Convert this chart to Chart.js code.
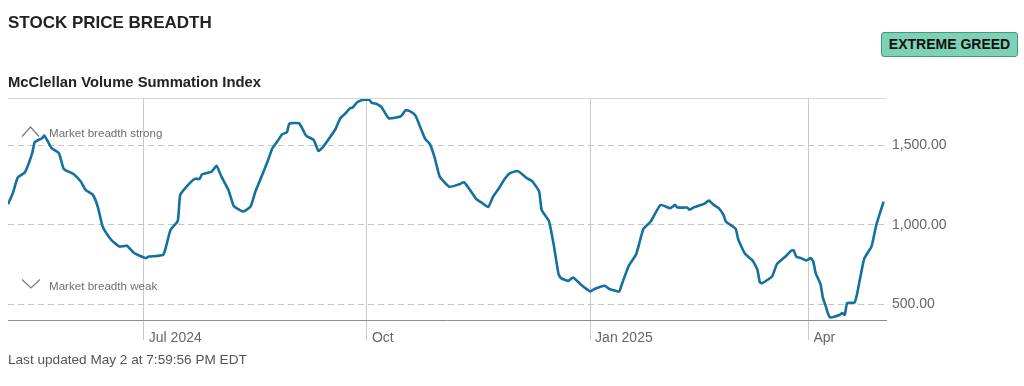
<!DOCTYPE html>
<html><head><meta charset="utf-8">
<script src="https://cdn.jsdelivr.net/npm/chart.js@4/dist/chart.umd.min.js"></script>
<style>
html,body{margin:0;padding:0;background:#fff;width:1024px;height:386px;overflow:hidden;font-family:"Liberation Sans",Arial,Helvetica,sans-serif;}
#wrap{position:absolute;left:0;top:0;width:1024px;height:386px;}
.t{position:absolute;white-space:nowrap;line-height:1;}
#title{left:8px;top:13.5px;font-size:17px;font-weight:bold;color:#222;}
#sub{left:8px;top:75px;font-size:14.8px;font-weight:bold;color:#222;}
#badge{left:881px;top:32px;width:137px;height:25px;box-sizing:border-box;border:1px solid #3f9a80;border-radius:3px;background:#7fd1b6;font-size:14px;font-weight:bold;color:#111;text-align:center;line-height:23px;}
#foot{left:8px;top:353px;font-size:13.6px;color:#555;}
.ann{font-size:11.6px;color:#6e6e6e;left:49px;}
#strong{top:127px;}
#weak{top:280.2px;}
svg{position:absolute;left:0;top:0;}
</style></head>
<body>
<div id="wrap"><canvas id="c"></canvas></div>
<div class="t" id="title">STOCK PRICE BREADTH</div>
<div class="t" id="sub">McClellan Volume Summation Index</div>
<div class="t" id="badge">EXTREME GREED</div>
<div class="t ann" id="strong">Market breadth strong</div>
<div class="t ann" id="weak">Market breadth weak</div>
<div class="t" id="foot">Last updated May 2 at 7:59:56 PM EDT</div>
<svg width="60" height="300" style="pointer-events:none">
<polyline points="22,136.5 30.5,127 39,136.5" fill="none" stroke="#7a7a7a" stroke-width="1.2"/>
<polyline points="22,279.5 31,288 40,279.5" fill="none" stroke="#7a7a7a" stroke-width="1.2"/>
</svg>
<script>
const dates = [
'2024-05-06','2024-05-08','2024-05-10','2024-05-13','2024-05-16','2024-05-17','2024-05-20','2024-05-21','2024-05-24','2024-05-27',
'2024-05-29','2024-06-02','2024-06-05','2024-06-07','2024-06-10','2024-06-12','2024-06-14','2024-06-17','2024-06-19','2024-06-21',
'2024-06-24','2024-06-27','2024-06-29','2024-07-02','2024-07-03','2024-07-06','2024-07-09','2024-07-10','2024-07-12','2024-07-15',
'2024-07-16','2024-07-19','2024-07-22','2024-07-24','2024-07-25','2024-07-29','2024-07-31','2024-08-02','2024-08-05','2024-08-07',
'2024-08-09','2024-08-11','2024-08-14','2024-08-16','2024-08-18','2024-08-21','2024-08-23','2024-08-25','2024-08-27','2024-08-29',
'2024-08-30','2024-09-03','2024-09-04','2024-09-06','2024-09-09','2024-09-11','2024-09-13','2024-09-15','2024-09-18','2024-09-20',
'2024-09-22','2024-09-24','2024-09-25','2024-09-27','2024-09-29','2024-09-30','2024-10-02','2024-10-03','2024-10-05','2024-10-07',
'2024-10-10','2024-10-15','2024-10-17','2024-10-19','2024-10-21','2024-10-23','2024-10-25','2024-10-27','2024-10-29','2024-10-31',
'2024-11-04','2024-11-08','2024-11-10','2024-11-12','2024-11-15','2024-11-17','2024-11-20','2024-11-22','2024-11-24','2024-11-27',
'2024-11-29','2024-12-02','2024-12-03','2024-12-06','2024-12-08','2024-12-11','2024-12-12','2024-12-15','2024-12-17','2024-12-19',
'2024-12-20','2024-12-23','2024-12-25','2024-12-28','2024-12-31','2025-01-01','2025-01-03','2025-01-07','2025-01-09','2025-01-13',
'2025-01-14','2025-01-17','2025-01-20','2025-01-23','2025-01-26','2025-01-30','2025-02-03','2025-02-05','2025-02-06','2025-02-10',
'2025-02-11','2025-02-13','2025-02-17','2025-02-19','2025-02-21','2025-02-23','2025-02-25','2025-02-26','2025-03-02','2025-03-03',
'2025-03-05','2025-03-06','2025-03-09','2025-03-11','2025-03-12','2025-03-13','2025-03-17','2025-03-19','2025-03-21','2025-03-23',
'2025-03-25','2025-03-26','2025-03-27','2025-03-29','2025-03-31','2025-04-02','2025-04-03','2025-04-04','2025-04-06','2025-04-07',
'2025-04-08','2025-04-09','2025-04-10','2025-04-12','2025-04-14','2025-04-15','2025-04-16','2025-04-17','2025-04-20','2025-04-21',
'2025-04-24','2025-04-27','2025-04-29','2025-05-02'
];
const summationIndex = [
1130,1200,1298,1332,1452,1521,1546,1563,1483,1452,
1353,1321,1273,1220,1189,1115,990,916,885,863,
868,822,807,790,800,803,811,853,968,1025,
1189,1248,1290,1290,1319,1336,1372,1304,1215,1120,
1099,1084,1115,1210,1284,1399,1483,1525,1571,1584,
1638,1641,1617,1561,1536,1466,1493,1536,1603,1672,
1701,1735,1739,1773,1788,1789,1788,1769,1762,1742,
1672,1685,1724,1714,1689,1616,1542,1508,1420,1304,
1240,1256,1269,1231,1164,1143,1112,1178,1221,1294,
1326,1340,1332,1294,1277,1210,1095,1025,874,689,
664,647,668,626,590,580,597,616,595,580,
622,744,815,975,1021,1125,1105,1126,1109,1109,
1095,1112,1132,1153,1126,1105,1063,1021,975,912,
843,815,775,716,637,633,674,752,780,807,
838,838,800,790,775,790,769,696,626,538,
496,444,416,422,433,444,433,507,510,559,
786,863,1000,1147
];
const xTickDates = ['2024-07-01','2024-10-01','2025-01-01','2025-04-01'];
const xTickLabels = ['Jul 2024','Oct','Jan 2025','Apr'];
const yTickValues = [500,1000,1500];
const xRange = ['2024-05-06','2025-05-03'];
const yRange = [400,1800];

function toDay(s){const p=s.split('-').map(Number);return Date.UTC(p[0],p[1]-1,p[2])/864e5;}
const points = dates.map((d,i)=>({x:toDay(d),y:summationIndex[i]}));
const xTicks = xTickDates.map(toDay);

const topLine = {
  id:'topLine',
  afterDraw(chart){
    const {ctx,chartArea:a}=chart;
    ctx.save();ctx.strokeStyle='#d6d6d6';ctx.lineWidth=1;
    ctx.beginPath();ctx.moveTo(a.left,a.top+0.5);ctx.lineTo(a.right,a.top+0.5);ctx.stroke();
    ctx.restore();
  }
};

new Chart(document.getElementById('c'),{
  type:'line',
  data:{datasets:[{data:points,borderColor:'#14709f',borderWidth:2.6,pointRadius:0,tension:0.15,fill:false,borderJoinStyle:'round'}]},
  options:{
    responsive:true,maintainAspectRatio:false,animation:false,
    layout:{padding:{left:8,top:98,right:0,bottom:0}},
    plugins:{legend:{display:false},tooltip:{enabled:false}},
    scales:{
      x:{type:'linear',min:toDay(xRange[0]),max:toDay(xRange[1]),
        afterBuildTicks(s){s.ticks=xTicks.map(v=>({value:v}));},
        afterFit(s){s.height=66;},
        grid:{color:'#c9c9c9',lineWidth:1,drawTicks:true,tickLength:20,tickColor:'#c9c9c9'},
        border:{display:true,color:'#8e8e8e',width:1},
        ticks:{autoSkip:false,maxRotation:0,align:'start',labelOffset:5,padding:-10,color:'#666',
          font:{family:'Liberation Sans',size:14},
          callback:(v,i)=>xTickLabels[i]}
      },
      y:{type:'linear',position:'right',min:yRange[0],max:yRange[1],
        afterBuildTicks(s){s.ticks=yTickValues.map(v=>({value:v}));},
        afterFit(s){s.width=138;},
        grid:{color:'#c4c4c4',lineWidth:1,drawTicks:false},
        border:{display:false,dash:[6,4]},
        ticks:{padding:6,color:'#666',font:{family:'Liberation Sans',size:14},
          callback:v=>Number(v).toLocaleString('en-US',{minimumFractionDigits:2,maximumFractionDigits:2})}
      }
    }
  },
  plugins:[topLine]
});
</script>
</body></html>
